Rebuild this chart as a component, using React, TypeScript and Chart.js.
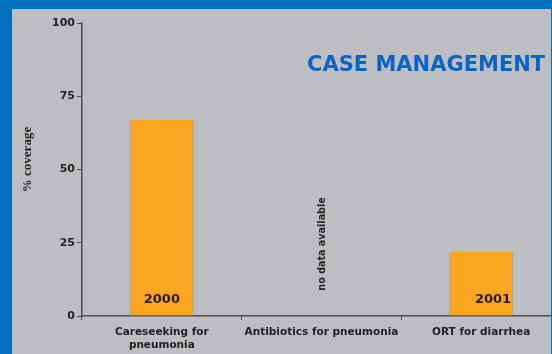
import React, { useEffect, useRef } from "react";
import { Chart, registerables } from "chart.js";

Chart.register(...registerables);

const categories: (string | string[])[] = [
  ["Careseeking for", "pneumonia"],
  "Antibiotics for pneumonia",
  "ORT for diarrhea",
];
const coverage: (number | null)[] = [67, null, 22];
const yearLabels: string[] = ["2000", "", "2001"];
const noDataLabels: string[] = ["", "no data available", ""];
const yTicks: number[] = [0, 25, 50, 75, 100];
const chartTitle = "CASE MANAGEMENT";
const yAxisTitle = "% coverage";

const TEXT = "#231f20";
const AXIS = "#4d4d4d";

const annotations = {
  id: "annotations",
  afterDatasetsDraw(chart: any) {
    const { ctx, scales } = chart;
    const x = scales.x;
    const y = scales.y;
    const meta = chart.getDatasetMeta(0);
    ctx.save();
    // title
    ctx.fillStyle = "#0a64c8";
    ctx.font = "bold 21px 'DejaVu Sans'";
    ctx.textAlign = "left";
    ctx.textBaseline = "middle";
    ctx.fillText(chartTitle, 295, 57);
    // y axis title
    ctx.save();
    ctx.translate(16, 150.5);
    ctx.rotate(-Math.PI / 2);
    ctx.fillStyle = TEXT;
    ctx.font = "bold 13px 'Liberation Serif'";
    ctx.textAlign = "center";
    ctx.textBaseline = "middle";
    ctx.fillText(yAxisTitle, 0, 0);
    ctx.restore();
    // year labels
    ctx.fillStyle = TEXT;
    ctx.font = "bold 13px 'DejaVu Sans'";
    ctx.textBaseline = "middle";
    yearLabels.forEach((lab, i) => {
      if (!lab) return;
      const bar: any = meta.data[i];
      const by = y.getPixelForValue(0) - 16;
      if (i === 0) {
        ctx.textAlign = "center";
        ctx.fillText(lab, bar.x, by);
      } else {
        ctx.textAlign = "right";
        ctx.fillText(lab, bar.x + bar.width / 2 - 2, by);
      }
    });
    // no data labels
    noDataLabels.forEach((lab, i) => {
      if (!lab) return;
      ctx.save();
      ctx.translate(x.getPixelForValue(i) + 1, y.getPixelForValue(24.6));
      ctx.rotate(-Math.PI / 2);
      ctx.fillStyle = TEXT;
      ctx.font = "bold 9.6px 'DejaVu Sans'";
      ctx.textAlign = "center";
      ctx.textBaseline = "middle";
      ctx.fillText(lab, 0, 0);
      ctx.restore();
    });
    ctx.restore();
  },
};

export default function App() {
  const ref = useRef<HTMLCanvasElement>(null);
  useEffect(() => {
    if (!ref.current) return;
    const chart = new Chart(ref.current, {
      type: "bar",
      data: {
        labels: categories,
        datasets: [
          {
            data: coverage,
            backgroundColor: "#f9a51e",
            borderColor: "#a3a3a3",
            borderWidth: { top: 0, left: 1, right: 1, bottom: 0 },
            borderSkipped: false,
            barPercentage: 0.4,
            categoryPercentage: 1,
          },
        ],
      },
      options: {
        responsive: false,
        animation: false,
        layout: { padding: { top: 14, left: 0, right: 11, bottom: 0 } },
        plugins: {
          legend: { display: false },
          tooltip: { enabled: false },
          title: { display: false },
        },
        scales: {
          x: {
            grid: {
              display: true,
              drawOnChartArea: false,
              drawTicks: true,
              tickLength: 4,
              color: AXIS,
              offset: true,
            },
            border: { display: true, color: AXIS, width: 1.5 },
            ticks: {
              color: TEXT,
              font: { family: "'DejaVu Sans'", size: 10.5, weight: "bold", lineHeight: 1.25 },
              padding: 6,
              maxRotation: 0,
              autoSkip: false,
            },
            afterFit(scale: any) {
              scale.height = 38;
            },
          },
          y: {
            min: 0,
            max: 100,
            afterBuildTicks(scale: any) {
              scale.ticks = yTicks.map((v) => ({ value: v }));
            },
            grid: {
              display: true,
              drawOnChartArea: false,
              drawTicks: true,
              tickLength: 5,
              color: AXIS,
            },
            border: { display: true, color: AXIS, width: 1.5 },
            ticks: {
              color: TEXT,
              font: { family: "'DejaVu Sans'", size: 11, weight: "bold" },
              padding: 2,
            },
            afterFit(scale: any) {
              scale.width = 70;
            },
          },
        },
      },
      plugins: [annotations],
    });
    return () => chart.destroy();
  }, []);
  return (
    <div
      style={{
        position: "fixed",
        left: 0,
        top: 0,
        width: 552,
        height: 354,
        background: "#0071bc",
        overflow: "hidden",
      }}
    >
      <div
        style={{
          position: "absolute",
          left: 12,
          top: 9,
          width: 539,
          height: 345,
          background: "#bdbec2",
          overflow: "hidden",
        }}
      >
        <canvas
          ref={ref}
          width={560}
          height={345}
          style={{ display: "block", width: 560, height: 345 }}
        />
      </div>
    </div>
  );
}
